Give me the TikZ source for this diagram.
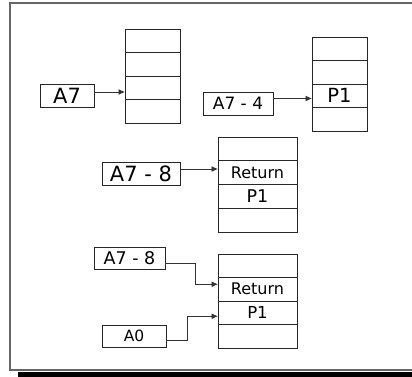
\documentclass[tikz,border=0pt]{standalone}
\usepackage{fontspec}
\setmainfont{DejaVu Sans}
\usetikzlibrary{arrows.meta}
\begin{document}
\begin{tikzpicture}[x=1pt,y=-1pt,
  cell/.style={draw=black!85, line width=0.9pt, inner sep=0pt, outer sep=0pt, anchor=north west},
  lbl/.style={draw=black!85, line width=0.9pt, inner sep=0pt, outer sep=0pt, anchor=north west},
  arr/.style={draw=black!80, line width=0.9pt, -{Latex[length=6.5pt,width=6pt]}},
  fs/.style={font=\fontsize{#1}{#1}\selectfont}]
\useasboundingbox (0,0) rectangle (412,376);
% frame with shadow
\fill[black] (18,371.5) rectangle (413,377);
\draw[black!60, line width=1.2pt] (413,3) -- (10,3) -- (10,370) -- (413,370);

% stack 1
\foreach \i in {1,...,4} {
  \node[cell, minimum width=55pt, minimum height=23.5pt] (s1r\i) at (125,{29+(\i-1)*23.5}) {};
}
\node[lbl, fs=21, minimum width=54pt, minimum height=23pt] (a7) at (40,84) {A7};
\draw[arr] ([yshift=3.5pt]a7.east) -- ([yshift=3.5pt]a7.east -| s1r3.west);

% stack 2
\node[cell, minimum width=55pt, minimum height=23.5pt] (s2r1) at (312,37) {};
\node[cell, minimum width=55pt, minimum height=23.5pt] (s2r2) at (312,60.5) {};
\node[cell, fs=19.5, minimum width=55pt, minimum height=23.5pt] (s2r3) at (312,84) {P1};
\node[cell, minimum width=55pt, minimum height=23.5pt] (s2r4) at (312,107.5) {};
\node[lbl, fs=17, minimum width=70pt, minimum height=23pt] (a74) at (203,92) {A7 - 4};
\draw[arr] ([yshift=5pt]a74.east) -- ([yshift=5pt]a74.east -| s2r3.west);

% stack 3
\node[cell, minimum width=79pt, minimum height=23.75pt] (s3r1) at (218,137) {};
\node[cell, fs=16, minimum width=79pt, minimum height=23.75pt] (s3r2) at (218,160.75) {Return};
\node[cell, fs=17.5, minimum width=79pt, minimum height=23.75pt] (s3r3) at (218,184.5) {P1};
\node[cell, minimum width=79pt, minimum height=23.75pt] (s3r4) at (218,208.25) {};
\node[lbl, fs=21, minimum width=78pt, minimum height=23pt] (a78) at (102,162) {A7 - 8};
\draw[arr] ([yshift=4.5pt]a78.east) -- ([yshift=4.5pt]a78.east -| s3r2.west);

% stack 4
\node[cell, minimum width=79pt, minimum height=23.5pt] (s4r1) at (218,254) {};
\node[cell, fs=16, minimum width=79pt, minimum height=23.5pt] (s4r2) at (218,277.5) {Return};
\node[cell, fs=16.5, minimum width=79pt, minimum height=23.5pt] (s4r3) at (218,301) {P1};
\node[cell, minimum width=79pt, minimum height=23.5pt] (s4r4) at (218,324.5) {};
\node[lbl, fs=17.5, minimum width=71pt, minimum height=22pt] (b78) at (94,247) {A7 - 8};
\node[lbl, fs=15.5, minimum width=64pt, minimum height=22pt] (a0) at (102,325) {A0};
\draw[arr] ([yshift=-5pt]b78.east) -- ++(30,0) |- ([yshift=5pt]s4r2.west);
\draw[arr] ([yshift=-4pt]a0.east) -- ++(21,0) |- ([yshift=-3.5pt]s4r3.west);
\end{tikzpicture}
\end{document}
